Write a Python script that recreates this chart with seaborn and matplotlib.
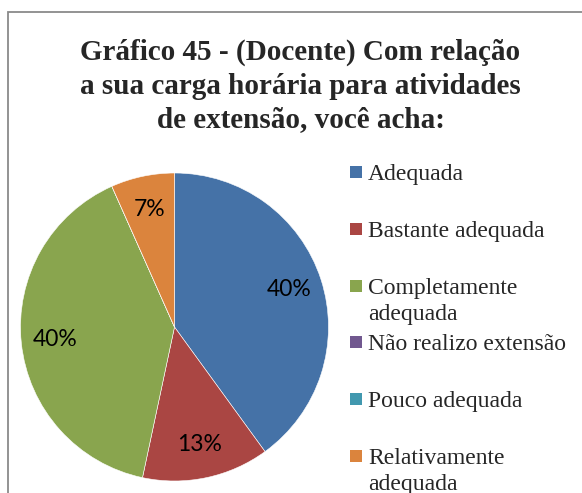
import matplotlib
matplotlib.use("Agg")
import matplotlib.pyplot as plt
from matplotlib.patches import Rectangle
import seaborn as sns

# ── Dados ───────────────────────────────────────────────────────────────────────
categorias = ["Adequada", "Bastante adequada", "Completamente\nadequada",
              "Não realizo extensão", "Pouco adequada", "Relativamente\nadequada"]
respostas = [6, 2, 6, 0, 0, 1]
cores = ["#4572A7", "#AA4643", "#89A54E", "#71588F", "#4198AF", "#DB843D"]
titulo = ["Gráfico 45 - (Docente) Com relação",
          "a sua carga horária para atividades",
          "de extensão, você acha:"]

sns.set_theme(style="white")
plt.rcParams["font.family"] = ["Liberation Serif", "DejaVu Serif"]

W, H = 582, 493
fig = plt.figure(figsize=(W / 100, H / 100), dpi=100)

# moldura cinza (só bordas esquerda e superior visíveis)
fig.patches.append(Rectangle((8 / W, -0.2), 1.5, 1.2 - 12 / H, transform=fig.transFigure,
                             fill=False, edgecolor="#8a8a8a", linewidth=1.3))

# título: três linhas centradas
for k, linha in enumerate(titulo):
    fig.text(300.5 / W, 1 - (59.5 + k * 34) / H, linha, ha="center", va="baseline",
             fontsize=21, fontweight="bold")

# ── Pizza ───────────────────────────────────────────────────────────────────────
cx, cy, r = 174.5, 327, 154
ax = fig.add_axes([(cx - r) / W, (H - cy - r) / H, 2 * r / W, 2 * r / H])


def fmt_pct(p):
    return f"{p:.0f}%" if p > 0.5 else ""


wedges, _, autotexts = ax.pie(
    respostas, colors=sns.color_palette(cores), startangle=90, counterclock=False,
    autopct=fmt_pct, pctdistance=0.78,
    wedgeprops=dict(edgecolor="white", linewidth=0.4),
    textprops=dict(fontsize=16.5, family="Lato", color="black"))
ax.set_xlim(-1, 1)
ax.set_ylim(-1, 1)
ax.set_aspect("equal")
ax.axis("off")

# ── Legenda (estilo Excel: entradas com espaçamento fixo) ──────────────────────
y0, dy, dlinha = 172, 56.8, 26
for i, (nome, cor) in enumerate(zip(categorias, cores)):
    yc = y0 + i * dy
    fig.patches.append(Rectangle((350 / W, 1 - (yc + 6) / H), 12 / W, 12 / H,
                                 transform=fig.transFigure, facecolor=cor, edgecolor="none"))
    for j, linha in enumerate(nome.split("\n")):
        fig.text(368 / W, 1 - (yc + 8 + j * dlinha) / H, linha, ha="left",
                 va="baseline", fontsize=17)

fig.savefig("out.png", dpi=100)
